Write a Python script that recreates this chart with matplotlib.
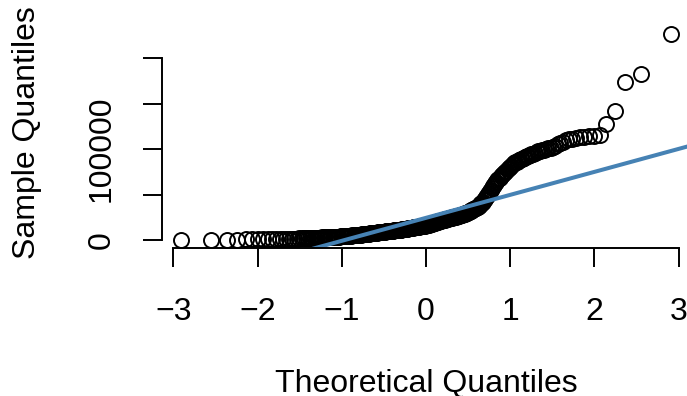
import numpy as np
import matplotlib
matplotlib.use("Agg")
import matplotlib.pyplot as plt
from statistics import NormalDist

# sorted sample values (280 points)
sample_q = [
    0, 200, 350, 450, 550, 650, 720, 800, 880, 960,
    1040, 1120, 1200, 1280, 1360, 1450, 1540, 1620, 1700, 1780,
    1870, 1960, 2050, 2140, 2230, 2320, 2400, 2480, 2580, 2680,
    2780, 2870, 2960, 3050, 3130, 3200, 3290, 3380, 3470, 3560,
    3650, 3740, 3830, 3920, 4000, 4110, 4220, 4340, 4450, 4560,
    4680, 4790, 4900, 5020, 5130, 5240, 5360, 5470, 5590, 5700,
    5850, 5990, 6140, 6280, 6430, 6570, 6720, 6860, 7010, 7150,
    7300, 7420, 7540, 7660, 7780, 7900, 8010, 8130, 8250, 8370,
    8490, 8610, 8730, 8850, 8960, 9080, 9200, 9310, 9420, 9530,
    9640, 9750, 9860, 9970, 10080, 10190, 10300, 10400, 10510, 10620,
    10730, 10840, 10950, 11060, 11170, 11280, 11390, 11500, 11640, 11790,
    11930, 12070, 12210, 12360, 12500, 12640, 12790, 12930, 13070, 13210,
    13360, 13500, 13640, 13790, 13930, 14070, 14210, 14360, 14500, 14640,
    14770, 14910, 15050, 15180, 15320, 15450, 15590, 15730, 15860, 16000,
    16260, 16520, 16780, 17040, 17300, 17570, 17830, 18090, 18350, 18610,
    18870, 19130, 19390, 19650, 19910, 20170, 20430, 20700, 20960, 21220,
    21480, 21740, 22000, 22240, 22480, 22710, 22950, 23190, 23430, 23670,
    23900, 24140, 24380, 24620, 24860, 25100, 25330, 25570, 25810, 26050,
    26290, 26520, 26760, 27000, 27350, 27700, 28050, 28400, 28750, 29100,
    29450, 29800, 30150, 30500, 31050, 31600, 32150, 32700, 33250, 33800,
    34350, 34900, 35450, 36000, 36860, 37710, 38570, 39430, 40290, 41140,
    42000, 43670, 45330, 47000, 48670, 50330, 52000, 53750, 55500, 57250,
    59000, 60750, 62500, 64250, 66000, 67310, 68630, 69940, 71250, 72560,
    73880, 75190, 76500, 77830, 79170, 80500, 81830, 83170, 84500, 85330,
    86170, 87000, 87830, 88670, 89500, 90310, 91130, 91940, 92750, 93560,
    94380, 95190, 96000, 96720, 97440, 98170, 98890, 99610, 100330, 101060,
    101780, 102500, 103900, 105300, 106700, 108100, 109600, 111000, 111600, 112200,
    112900, 113600, 114300, 115000, 115600, 128000, 142000, 173600, 182400, 226800,
]

# reference line (qqline)
line_intercept = 24400
line_slope = 25300

x_ticks = [-3, -2, -1, 0, 1, 2, 3]
y_ticks = [0, 50000, 100000, 150000, 200000]
y_ticklabels = ["0", "", "100000", "", ""]

plt.rcParams['font.family'] = ['Liberation Sans', 'DejaVu Sans']

# theoretical quantiles like R's ppoints()
n = len(sample_q)
probs = (np.arange(1, n + 1) - 0.5) / n
theo_q = [NormalDist().inv_cdf(p) for p in probs]

fig = plt.figure(figsize=(6.87, 3.96), dpi=100)
ax = fig.add_axes([161.5 / 687, 1 - 248.3 / 396, (690 - 161.5) / 687, (248.3 - 25) / 396])

ax.plot(theo_q, sample_q, 'o', mfc='none', mec='black', ms=10.8, mew=1.4)
ax.axline((0, line_intercept), slope=line_slope, color='#4682B4', lw=2.9)

ax.set_xlim(-3.141, 3.135)
ax.set_ylim(-9140, 236700)

for s in ['top', 'right']:
    ax.spines[s].set_visible(False)
ax.spines['left'].set_bounds(0, 200000)
ax.spines['bottom'].set_bounds(-3, 3)
ax.spines['left'].set_linewidth(1.4)
ax.spines['bottom'].set_linewidth(1.4)

ax.set_xticks(x_ticks)
ax.set_xticklabels([str(t).replace('-', '\u2212') for t in x_ticks])
ax.set_yticks(y_ticks)
ax.set_yticklabels(y_ticklabels, rotation=90, va='center')
ax.tick_params(length=14, width=1.4, labelsize=23, color='black')
ax.tick_params(axis='x', pad=21)
ax.tick_params(axis='y', pad=18)

fig.text(426.5 / 687, 1 - 392.5 / 396, 'Theoretical Quantiles', fontsize=23,
         ha='center', va='baseline')
fig.text(35 / 687, 1 - 133 / 396, 'Sample Quantiles', fontsize=23, rotation=90,
         rotation_mode='anchor', ha='center', va='baseline')

fig.savefig('out.png', dpi=100)
